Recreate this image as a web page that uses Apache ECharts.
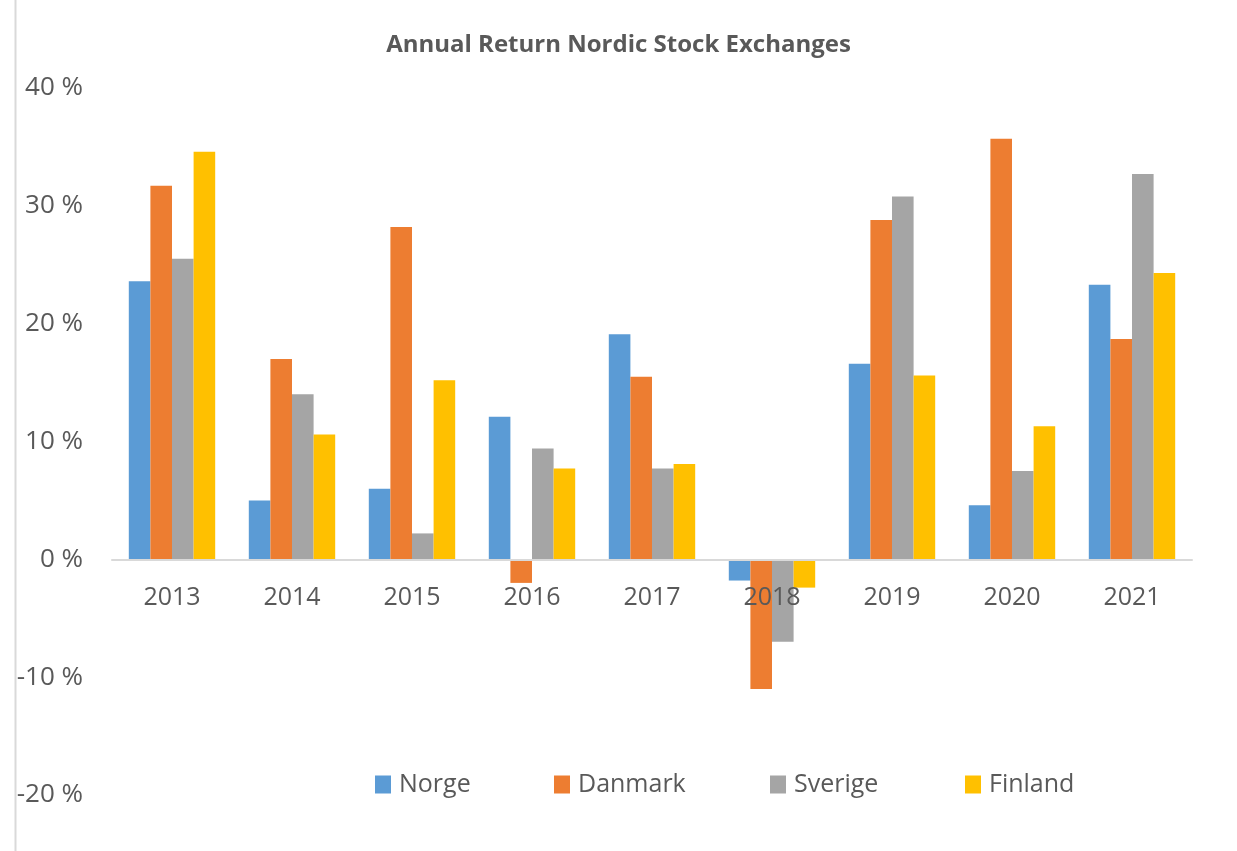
<!DOCTYPE html>
<html>
<head>
<meta charset="utf-8">
<script src="https://cdn.jsdelivr.net/npm/echarts@6/dist/echarts.min.js"></script>
<style>
  html, body { margin: 0; padding: 0; background: #fff; }
  #chart { width: 1237px; height: 851px; }
</style>
</head>
<body>
<div id="chart"></div>
<script>
const years = ['2013', '2014', '2015', '2016', '2017', '2018', '2019', '2020', '2021'];
const norge = [23.6, 5.0, 6.0, 12.1, 19.1, -1.8, 16.6, 4.6, 23.3];
const danmark = [31.7, 17.0, 28.2, -2.0, 15.5, -11.0, 28.8, 35.7, 18.7];
const sverige = [25.5, 14.0, 2.2, 9.4, 7.7, -7.0, 30.8, 7.5, 32.7];
const finland = [34.6, 10.6, 15.2, 7.7, 8.1, -2.4, 15.6, 11.3, 24.3];
const yTicks = [-20, -10, 0, 10, 20, 30, 40];

const font = '"Open Sans", "Liberation Sans", sans-serif';
const textColor = '#595959';
const colors = ['#5B9BD5', '#ED7D31', '#A5A5A5', '#FFC000'];
const names = ['Norge', 'Danmark', 'Sverige', 'Finland'];
const legendLeft = [375, 554, 770, 965];

const chart = echarts.init(document.getElementById('chart'));

const bar = (name, data, color) => ({
  name,
  type: 'bar',
  data,
  barGap: '0%',
  barCategoryGap: '28%',
  itemStyle: { color },
  emphasis: { disabled: true }
});

// one legend per item so each sits where the original put it
const legends = names.map((n, i) => ({
  data: [n],
  left: legendLeft[i],
  top: 772,
  itemWidth: 16,
  itemHeight: 18,
  icon: 'rect',
  padding: 0,
  textStyle: { fontFamily: font, fontSize: 25, color: textColor, padding: [0, 0, 0, 3] }
}));

chart.setOption({
  animation: false,
  title: {
    text: 'Annual Return Nordic Stock Exchanges',
    left: 'center',
    top: 28,
    textStyle: { fontFamily: font, fontSize: 24, fontWeight: 'bold', color: textColor }
  },
  graphic: [{
    type: 'line',
    shape: { x1: 15.5, y1: 0, x2: 15.5, y2: 851 },
    style: { stroke: '#d9d9d9', lineWidth: 2 }
  }],
  legend: legends,
  grid: { left: 112, right: 45, top: 88, bottom: 56 },
  xAxis: {
    type: 'category',
    data: years,
    z: 10,
    axisLine: { onZero: true, lineStyle: { color: '#d9d9d9', width: 2 } },
    axisTick: { show: false },
    axisLabel: { fontFamily: font, fontSize: 25, color: textColor, margin: -210 }
  },
  yAxis: {
    type: 'value',
    min: yTicks[0],
    max: yTicks[yTicks.length - 1],
    interval: 10,
    splitLine: { show: false },
    axisLine: { show: false },
    axisTick: { show: false },
    axisLabel: {
      fontFamily: font,
      fontSize: 26,
      color: textColor,
      margin: 29,
      formatter: v => v + ' %'
    }
  },
  series: names.map((n, i) => bar(n, [norge, danmark, sverige, finland][i], colors[i]))
});
</script>
</body>
</html>
